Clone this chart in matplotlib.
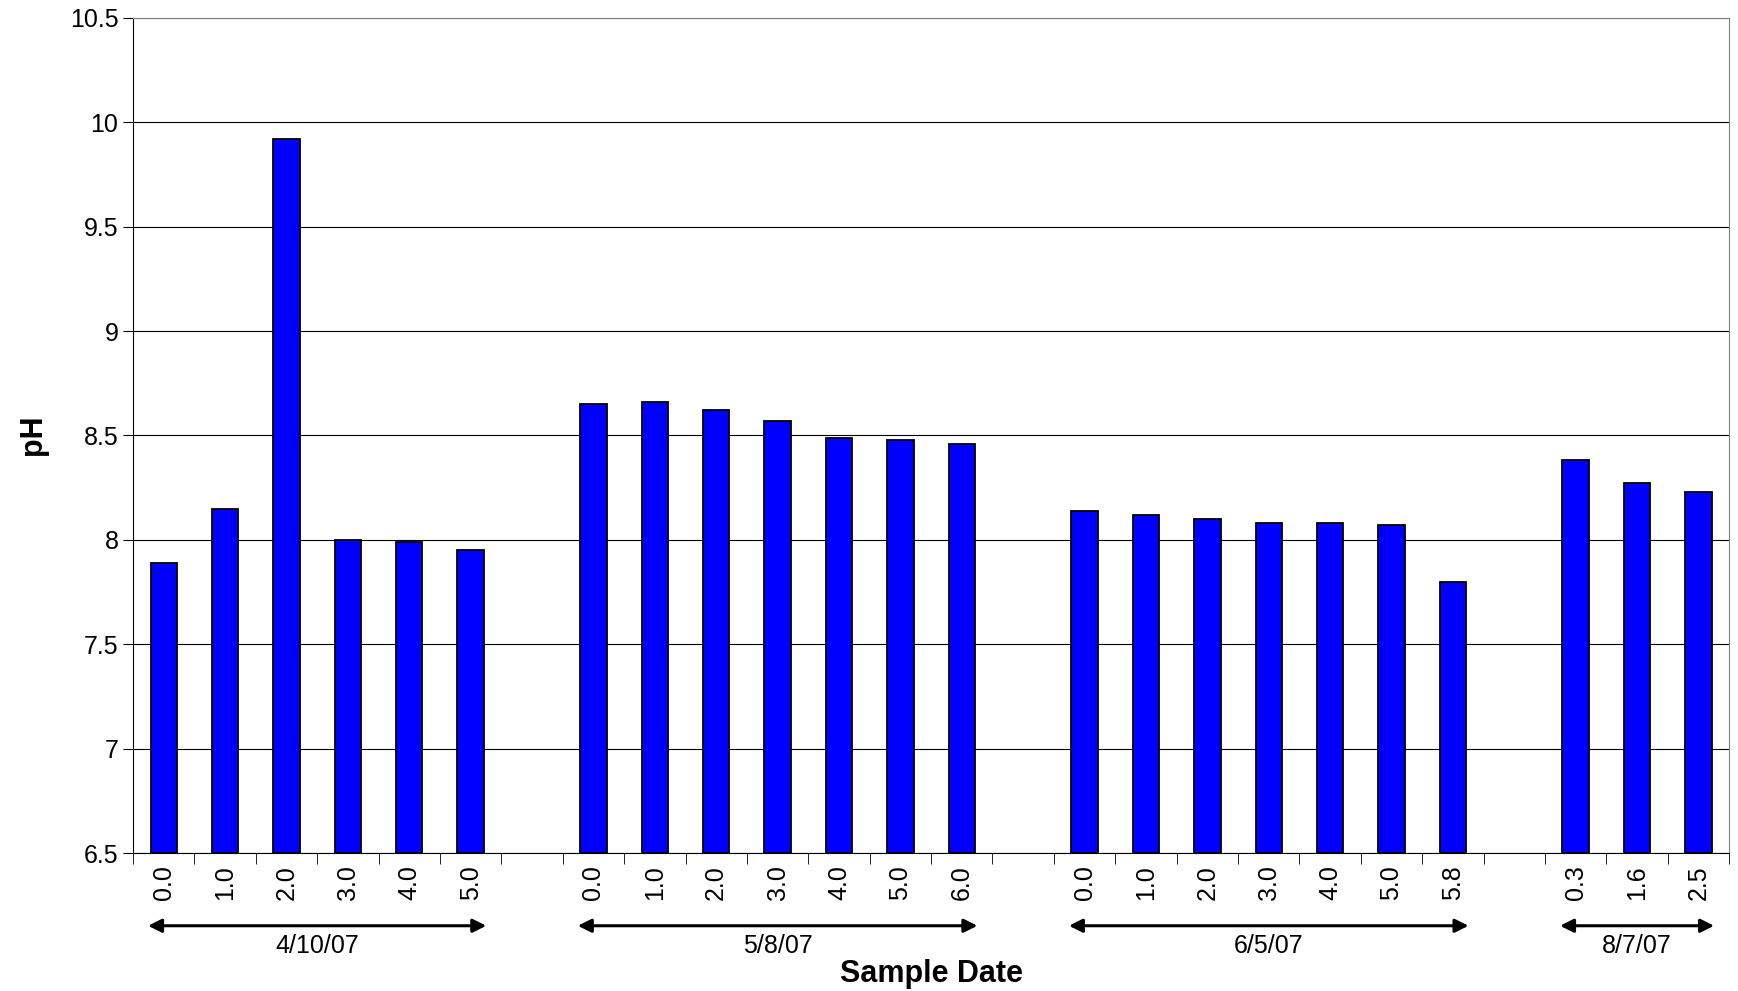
import matplotlib
matplotlib.use("Agg")
import matplotlib.pyplot as plt
import numpy as np

plt.rcParams['font.family'] = ['Liberation Sans', 'DejaVu Sans']

dates = ["4/10/07", "5/8/07", "6/5/07", "8/7/07"]
depths = [["0.0","1.0","2.0","3.0","4.0","5.0"],
          ["0.0","1.0","2.0","3.0","4.0","5.0","6.0"],
          ["0.0","1.0","2.0","3.0","4.0","5.0","5.8"],
          ["0.3","1.6","2.5"]]
ph = [[7.89, 8.15, 9.92, 8.00, 7.99, 7.95],
      [8.65, 8.66, 8.62, 8.57, 8.49, 8.48, 8.46],
      [8.14, 8.12, 8.10, 8.08, 8.08, 8.07, 7.80],
      [8.38, 8.27, 8.23]]

W, H = 1568, 891
fig = plt.figure(figsize=(17.38, 9.91), dpi=100)
ax = fig.add_axes([120/W, 1-767/H, 1440/W, 751/H])

pos, vals, labs, groups = [], [], [], []
i = 0
for g, (d, v) in enumerate(zip(depths, ph)):
    start = i
    for dd, vv in zip(d, v):
        pos.append(i); vals.append(vv); labs.append(dd); i += 1
    groups.append((start, i-1))
    if g < len(depths)-1:
        i += 1
n = i
ax.bar(pos, np.array(vals)-6.5, bottom=6.5, width=0.43, color="#0000ff", edgecolor="black", linewidth=1.3, zorder=3)
ax.set_xlim(-0.5, n-0.5)
ax.set_ylim(6.5, 10.5)
ax.set_yticks(np.arange(6.5, 10.51, 0.5))
ax.set_yticklabels(["6.5","7","7.5","8","8.5","9","9.5","10","10.5"], fontsize=18)
ax.yaxis.grid(True, color="black", linewidth=0.8, zorder=0)
ax.set_xticks(pos)
ax.set_xticklabels(labs, rotation=90, fontsize=18)
ax.tick_params(axis="x", length=0, pad=9)
ax.set_xticks(np.arange(-0.5, n, 1), minor=True)
ax.tick_params(axis="x", which="minor", length=8, color="black")
ax.tick_params(axis="y", length=7, direction="out")
for s in ax.spines.values():
    s.set_color("#808080")
ax.spines["left"].set_color("black")
ax.spines["bottom"].set_color("black")

for (a, b), d in zip(groups, dates):
    ax.annotate("", xy=(a-0.3, -0.087), xytext=(b+0.3, -0.087),
                xycoords=("data", "axes fraction"), textcoords=("data", "axes fraction"),
                arrowprops=dict(arrowstyle="<|-|>", color="black", lw=2.2, mutation_scale=20))
    ax.text((a+b)/2, -0.097, d, transform=ax.get_xaxis_transform(), ha="center", va="top", fontsize=18)

fig.text(840/W, 1-876/H, "Sample Date", ha="center", va="center", fontsize=22, fontweight="bold")
fig.text(30/W, 1-391/H, "pH", ha="center", va="center", rotation=90, fontsize=22, fontweight="bold")
fig.savefig("out.png", dpi=100)
